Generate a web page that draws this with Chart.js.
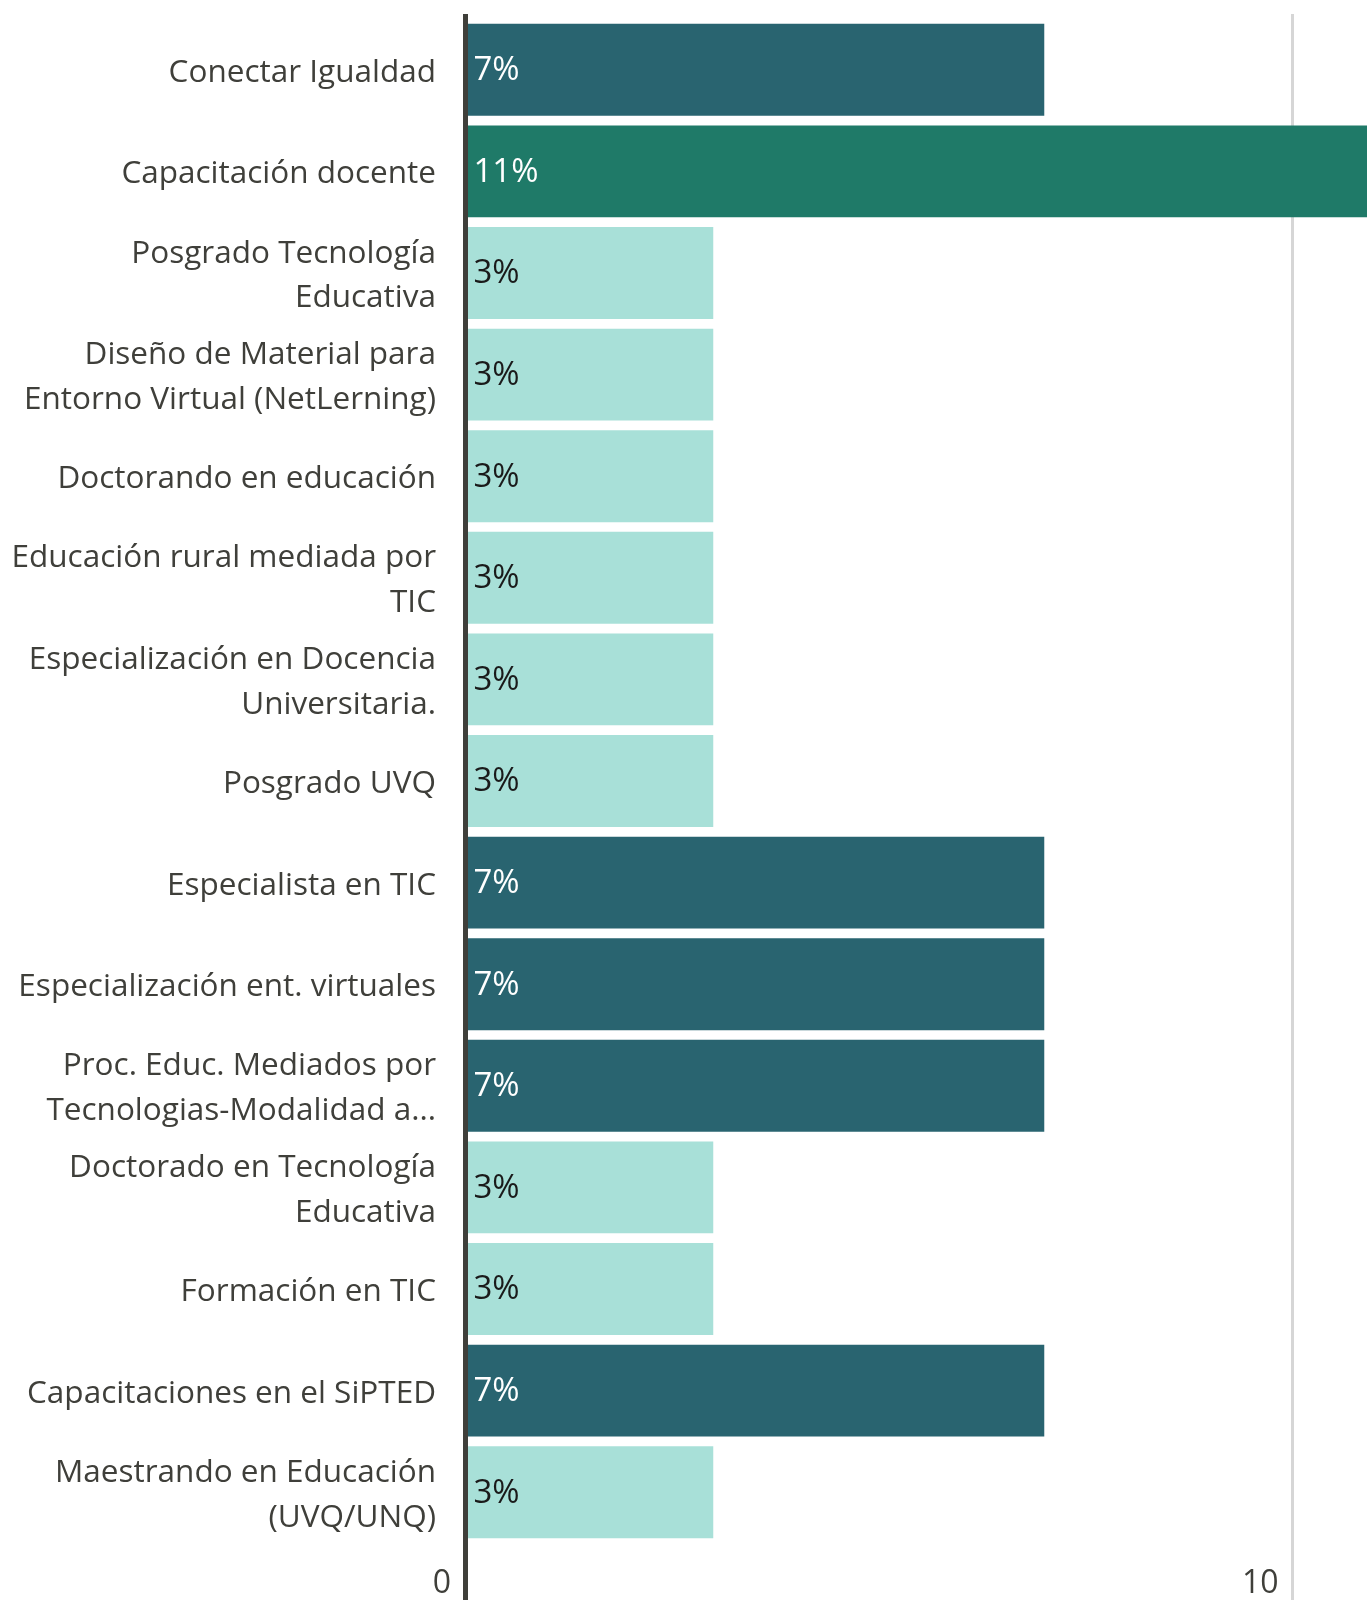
<!DOCTYPE html>
<html>
<head>
<meta charset="utf-8">
<script src="https://cdn.jsdelivr.net/npm/chart.js@4.4.1/dist/chart.umd.min.js"></script>
<style>
  html, body { margin: 0; padding: 0; background: #fff; }
  #wrap { width: 1367px; height: 1600px; position: relative; }
</style>
</head>
<body>
<div id="wrap"><canvas id="myBarChart"></canvas></div>
<script>
// datos
const categories = [
  'Conectar Igualdad',
  'Capacitación docente',
  ['Posgrado Tecnología', 'Educativa'],
  ['Diseño de Material para', 'Entorno Virtual (NetLerning)'],
  'Doctorando en educación',
  ['Educación rural mediada por', 'TIC'],
  ['Especialización en Docencia', 'Universitaria.'],
  'Posgrado UVQ',
  'Especialista en TIC',
  'Especialización ent. virtuales',
  ['Proc. Educ. Mediados por', 'Tecnologias-Modalidad a...'],
  ['Doctorado en Tecnología', 'Educativa'],
  'Formación en TIC',
  'Capacitaciones en el SiPTED',
  ['Maestrando en Educación', '(UVQ/UNQ)']
];
const percentValues = [7, 11, 3, 3, 3, 3, 3, 3, 7, 7, 7, 3, 3, 7, 3];
const xTicks = [0, 10];
const xMax = 10.9;

const textColor = '#3f3f3a';
const fontFamily = '"Open Sans", "Noto Sans", sans-serif';

function barColor(v) {
  if (v >= 10) return '#1f7a68';
  if (v >= 5) return '#296470';
  return '#a8e0d8';
}

function setTicks(scale) {
  scale.ticks = xTicks.map(v => ({ value: v }));
}

function gridColor(c) {
  return c.tick && c.tick.value === 0 ? textColor : '#d6d6d6';
}
function gridWidth(c) {
  return c.tick && c.tick.value === 0 ? 5 : 3;
}

// etiquetas dentro de las barras
const barLabels = {
  id: 'barLabels',
  afterDatasetsDraw(chart) {
    const ctx = chart.ctx;
    const meta = chart.getDatasetMeta(0);
    ctx.save();
    ctx.font = '33px ' + fontFamily;
    ctx.textAlign = 'left';
    ctx.textBaseline = 'middle';
    meta.data.forEach((bar, i) => {
      const v = percentValues[i];
      ctx.fillStyle = v >= 5 ? '#ffffff' : '#1a1a1a';
      ctx.fillText(v + '%', bar.base + 6, bar.y + 1);
    });
    ctx.restore();
  }
};

const ctxBar = document.getElementById('myBarChart').getContext('2d');
const myBarChart = new Chart(ctxBar, {
  type: 'bar',
  data: {
    labels: categories,
    datasets: [{
      data: percentValues,
      backgroundColor: c => barColor(c.raw),
      borderWidth: 0,
      barPercentage: 0.905,
      categoryPercentage: 1
    }]
  },
  options: {
    indexAxis: 'y',
    responsive: true,
    maintainAspectRatio: false,
    animation: false,
    layout: { padding: { top: 14, left: 0, right: 0, bottom: 0 } },
    plugins: {
      legend: { display: false },
      tooltip: { enabled: false }
    },
    scales: {
      x: {
        type: 'linear',
        min: 0,
        max: xMax,
        afterBuildTicks: setTicks,
        afterFit: s => { s.height = 57; },
        border: { display: false },
        grid: { color: gridColor, lineWidth: gridWidth, tickLength: 57 },
        ticks: {
          align: 'end',
          labelOffset: -14,
          padding: -34,
          color: textColor,
          font: { family: fontFamily, size: 32, lineHeight: 1.1 }
        }
      },
      xTop: {
        type: 'linear',
        position: 'top',
        min: 0,
        max: xMax,
        afterBuildTicks: setTicks,
        border: { display: false },
        grid: { color: gridColor, lineWidth: gridWidth, tickLength: 5 },
        ticks: { display: false }
      },
      y: {
        afterFit: s => {
          s.width = 465;
          s.paddingTop = 0;
          s.paddingBottom = 0;
        },
        grid: { display: false, drawTicks: false },
        border: { color: textColor, width: 5, z: 1 },
        ticks: {
          autoSkip: false,
          padding: 29,
          labelOffset: 3,
          color: textColor,
          font: { family: fontFamily, size: 31.5, lineHeight: 1.42 }
        }
      }
    }
  },
  plugins: [barLabels]
});
</script>
</body>
</html>
